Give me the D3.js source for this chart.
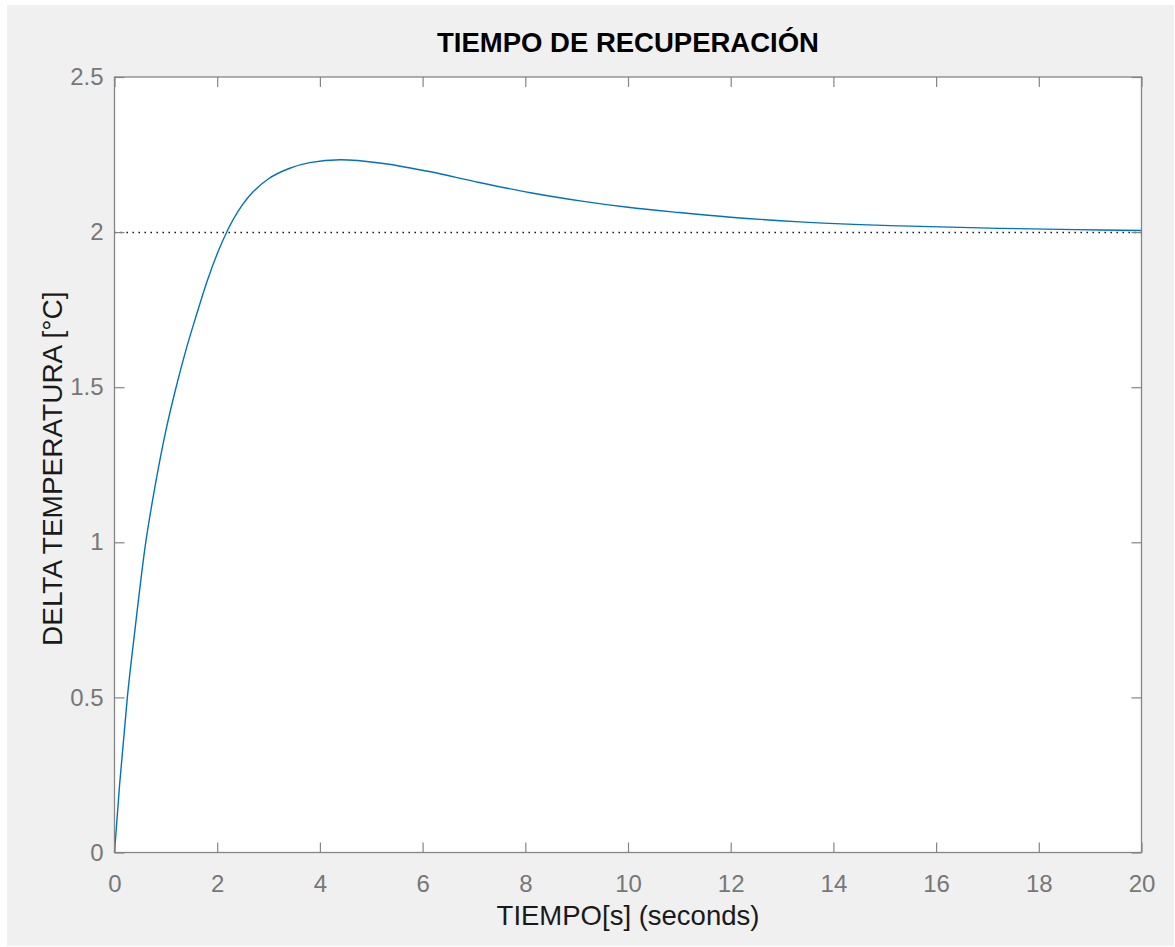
<!DOCTYPE html>
<html>
<head>
<meta charset="utf-8">
<script src="https://cdn.jsdelivr.net/npm/d3@7"></script>
<style>
  html, body { margin: 0; padding: 0; background: #ffffff; }
  svg { display: block; font-family: "Liberation Sans", Arial, Helvetica, sans-serif; }
</style>
</head>
<body>
<svg id="chart"></svg>
<script>
//Data
const timeValues = [0, 0.1, 0.25, 0.4, 0.6, 0.8, 1.0, 1.2, 1.4, 1.6, 1.8, 2.0, 2.2, 2.5, 2.7, 3.0, 3.4, 3.8, 4.4, 5.2, 6.1, 7.1, 8.1, 9.1, 10, 11, 12, 13.35, 15.3, 17.25, 19.2, 20];
const deltaValues = [0, 0.22, 0.5, 0.72, 0.99, 1.19, 1.36, 1.50, 1.625, 1.735, 1.84, 1.93, 2.005, 2.09, 2.13, 2.172, 2.205, 2.224, 2.233, 2.222, 2.196, 2.16, 2.127, 2.10, 2.08, 2.063, 2.048, 2.033, 2.02, 2.012, 2.007, 2.005];
const xTicks = [0, 2, 4, 6, 8, 10, 12, 14, 16, 18, 20];
const yTicks = [0, 0.5, 1, 1.5, 2, 2.5];
const finalValue = 2;

const titleText = "TIEMPO DE RECUPERACIÓN";
const xLabelText = "TIEMPO[s] (seconds)";
const yLabelText = "DELTA TEMPERATURA [°C]";

function drawChart(){
  const w = 1175;
  const h = 947;
  const left = 114.5;
  const right = 1141.5;
  const top = 77;
  const bottom = 852.5;
  const tickLen = 10;
  const axisColor = "#858585";
  const tickTextColor = "#777777";

  const chart = d3.select("#chart")
                  .attr("width", w)
                  .attr("height", h);

  //Figure background
  chart.append("rect")
       .attr("x", 7)
       .attr("y", 5)
       .attr("width", w - 8)
       .attr("height", h - 6)
       .attr("fill", "#f0f0f0");

  //Scale Setup
  const xScale = d3.scaleLinear().domain([0, 20]).range([left, right]);
  const yScale = d3.scaleLinear().domain([0, 2.5]).range([bottom, top]);

  //Plot area
  chart.append("rect")
       .attr("x", left)
       .attr("y", top)
       .attr("width", right - left)
       .attr("height", bottom - top)
       .attr("fill", "#ffffff");

  //Final value dotted line
  chart.append("line")
       .attr("x1", xScale(0))
       .attr("x2", xScale(20))
       .attr("y1", Math.round(yScale(finalValue)) + 0.5)
       .attr("y2", Math.round(yScale(finalValue)) + 0.5)
       .attr("stroke", "#000000")
       .attr("stroke-width", 1.4)
       .attr("stroke-dasharray", "1.4,4.6");

  //Response curve
  const points = timeValues.map((t, i) => [t, deltaValues[i]]);
  const line = d3.line()
                 .x((d) => xScale(d[0]))
                 .y((d) => yScale(d[1]))
                 .curve(d3.curveMonotoneX);

  chart.append("path")
       .datum(points)
       .attr("d", line)
       .attr("fill", "none")
       .attr("stroke", "#0072BD")
       .attr("stroke-width", 1.4);

  //Axes (ticks inward, on all four sides)
  const styleAxis = (g) => {
    g.select(".domain").remove();
    g.selectAll(".tick line").attr("stroke", axisColor).attr("stroke-width", 1.2);
    g.selectAll(".tick text")
     .attr("fill", tickTextColor)
     .style("font-size", "24px")
     .style("font-family", "'Liberation Sans', Arial, sans-serif");
  };

  const xAxis = d3.axisBottom(xScale).tickValues(xTicks).tickSize(-tickLen).tickPadding(22).tickFormat(d3.format("d"));
  chart.append("g")
       .attr("transform", `translate(0, ${bottom})`)
       .call(xAxis)
       .call(styleAxis);

  const xAxisTop = d3.axisTop(xScale).tickValues(xTicks).tickSize(-tickLen).tickFormat("");
  chart.append("g")
       .attr("transform", `translate(0, ${top})`)
       .call(xAxisTop)
       .call(styleAxis);

  const yAxis = d3.axisLeft(yScale).tickValues(yTicks).tickSize(-tickLen).tickPadding(11).tickFormat(d3.format("~g"));
  chart.append("g")
       .attr("transform", `translate(${left}, 0)`)
       .call(yAxis)
       .call(styleAxis);

  const yAxisRight = d3.axisRight(yScale).tickValues(yTicks).tickSize(-tickLen).tickFormat("");
  chart.append("g")
       .attr("transform", `translate(${right}, 0)`)
       .call(yAxisRight)
       .call(styleAxis);

  //Box
  chart.append("rect")
       .attr("x", left)
       .attr("y", top)
       .attr("width", right - left)
       .attr("height", bottom - top)
       .attr("fill", "none")
       .attr("stroke", axisColor)
       .attr("stroke-width", 1.3);

  //Labels Setup
  chart.append("text")
       .attr("x", (left + right) / 2)
       .attr("y", 52)
       .attr("text-anchor", "middle")
       .attr("fill", "#000000")
       .style("font-size", "27.5px")
       .style("font-weight", "bold")
       .text(titleText);

  chart.append("text")
       .attr("x", (left + right) / 2)
       .attr("y", 925)
       .attr("text-anchor", "middle")
       .attr("fill", "#1a1a1a")
       .style("font-size", "27.5px")
       .text(xLabelText);

  chart.append("text")
       .attr("transform", `translate(62, ${(top + bottom) / 2 + 4}) rotate(-90)`)
       .attr("text-anchor", "middle")
       .attr("fill", "#1a1a1a")
       .style("font-size", "28px")
       .text(yLabelText);
};
drawChart();
</script>
</body>
</html>
